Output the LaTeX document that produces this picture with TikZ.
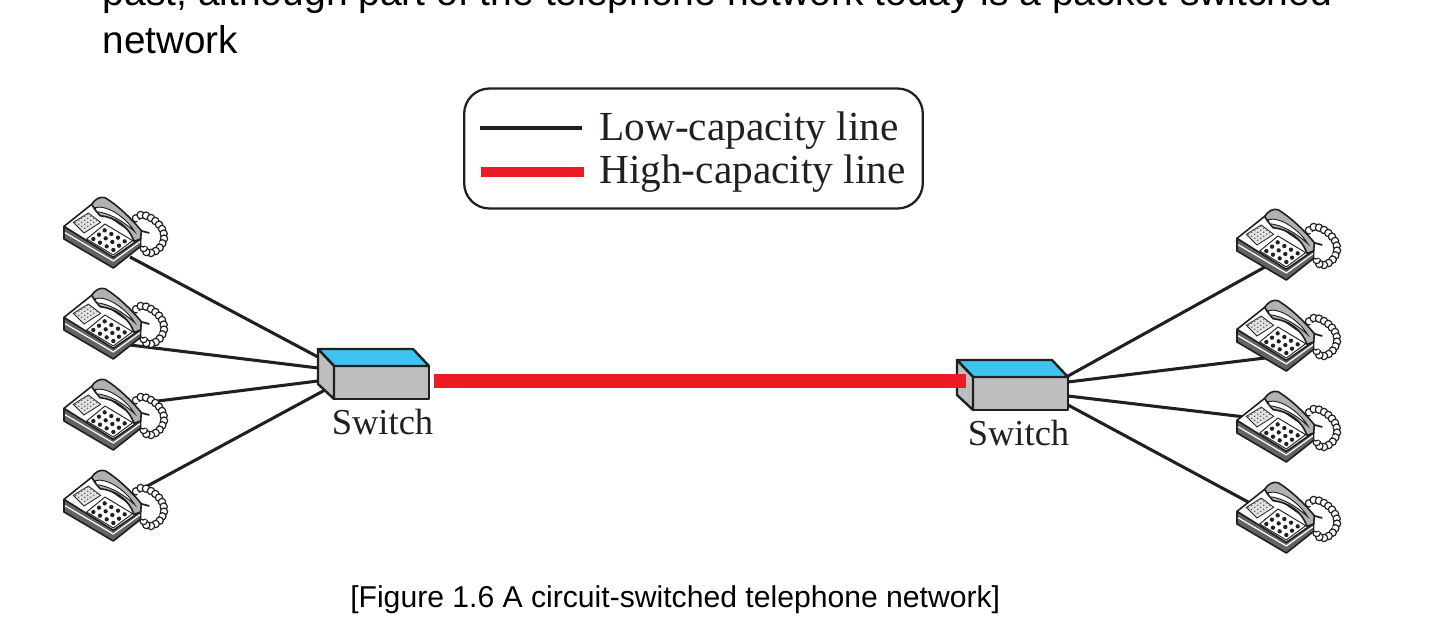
\documentclass[tikz,border=0pt]{standalone}
\usepackage{fontspec}
\setmainfont{Liberation Serif}
\newfontfamily\arialfont{Liberation Sans}
\definecolor{ink}{HTML}{231F20}
\definecolor{redline}{HTML}{ED1C24}
\definecolor{swblue}{HTML}{3FC4F0}
\definecolor{swgray}{HTML}{BCBEC0}
\definecolor{padgray}{HTML}{E4E4E4}
\tikzset{
  lowline/.style={draw=ink,line width=2.3pt},
  highline/.style={draw=redline,line width=10.5pt},
  swedge/.style={draw=ink,line width=1.8pt,line join=round},
  swbox/.style={swedge,fill=swgray,minimum width=71.25pt,minimum height=24.75pt,inner sep=0pt,outer sep=0pt},
  swlabel/.style={font=\fontsize{27.4pt}{30pt}\selectfont,text=ink,anchor=base,inner sep=0pt},
  legendlabel/.style={font=\fontsize{31pt}{33pt}\selectfont,text=ink,anchor=base west,inner sep=0pt},
  sanstext/.style={font=\arialfont\fontsize{29pt}{32pt}\selectfont,text=black,anchor=base west,inner sep=0pt},
  captiontext/.style={font=\arialfont\fontsize{22.6pt}{26pt}\selectfont,text=black,anchor=base west,inner sep=0pt},
  phoneline/.style={draw=ink,line width=1.2pt,line join=round,fill=white},
  phone/.pic={
    \begin{scope}[x=0.25pt,y=-0.25pt]
      % cord
      \foreach \a/\b in {258/88,272/78,288/80,303/87,316/96,327/107,336/120,341/134,342/149,337/163,329/176,317/186,303/192,289/189,281/177,279/163}
        \fill[white,draw=ink,line width=0.9pt] (\a,\b) circle (11);
      \fill[white] (262,92) -- (300,100) -- (328,130) -- (328,160) -- (300,178) -- (270,160) -- cycle;
      \draw[ink,line width=1.3pt] (272,125) -- (298,132);
      % lower body
      \draw[phoneline,fill=ink!70] (42,112) -- (42,150) -- (190,237) -- (272,172) -- (272,148) -- (190,198) -- cycle;
      \draw[draw=white,line width=0.9pt] (45,131) -- (190,216) -- (270,158);
      % top of body
      \draw[phoneline] (42,112) -- (125,46) -- (272,148) -- (190,205) -- cycle;
      % small pad
      \draw[ink,line width=0.6pt,fill=padgray] (70,100) -- (115,72) -- (152,100) -- (102,132) -- cycle;
      \foreach \i in {0,...,4} \foreach \j in {0,...,3}
        \fill[ink!65] ({77+\i*9+\j*9},{100-\i*6+\j*6}) circle (2.8);
      % keypad
      \draw[ink,line width=0.7pt,fill=white] (110,150) -- (165,105) -- (248,155) -- (190,198) -- cycle;
      \foreach \i in {0,...,2} \foreach \j in {0,...,3}
        \fill[ink] ({130+\i*17+\j*20},{150-\i*13+\j*11}) circle (6.5);
      % handset
      \draw[phoneline,fill=ink!35] (125,46) .. controls (135,30) and (150,22) .. (165,26)
        .. controls (205,50) and (245,90) .. (274,125) -- (272,150) -- (252,157)
        .. controls (235,110) and (195,85) .. (150,80) -- (135,62) -- cycle;
      \draw[ink,fill=white,line width=0.7pt] (135,56) .. controls (170,46) and (228,85) .. (254,128)
        .. controls (215,92) and (175,72) .. (140,68) -- cycle;
    \end{scope}
  }
}
\begin{document}
\begin{tikzpicture}[x=0.75pt,y=-0.75pt]
\useasboundingbox (0,0) rectangle (1440,631);
\clip (0,0) rectangle (1440,631);
% top text
\node[sanstext,font=\arialfont\fontsize{29.25pt}{32pt}\selectfont] (t1) at (102.5,6) {past, although part of the telephone network today is a packet-switched};
\node[sanstext] (t2) at (102.5,54) {network};
% legend
\node[draw=ink,line width=1.7pt,rounded corners=19pt,minimum width=344pt,minimum height=90pt,inner sep=0pt] (legend) at (693.5,148.5) {};
\coordinate (la) at (480,128); \coordinate (lb) at (582,128);
\coordinate (ha) at (481,172); \coordinate (hb) at (584,172);
\draw[lowline] (la) -- (lb);
\draw[draw=redline,line width=8pt] (ha) -- (hb);
\node[legendlabel] (lowtext) at (599,141) {Low-capacity line};
\node[legendlabel] (hightext) at (599,184) {High-capacity line};
% switch anchors
\coordinate (sl1) at (318,357); \coordinate (sl2) at (318,368);
\coordinate (sl3) at (318,381); \coordinate (sl4) at (325,390);
\coordinate (sr1) at (1068,376); \coordinate (sr2) at (1068,382);
\coordinate (sr3) at (1068,396); \coordinate (sr4) at (1068,405);
% phone ports
\coordinate (p1) at (130,257); \coordinate (p2) at (130,345);
\coordinate (p3) at (150,402); \coordinate (p4) at (140,490);
\coordinate (q1) at (1265,267); \coordinate (q2) at (1265,358);
\coordinate (q3) at (1245,417); \coordinate (q4) at (1250,503);
\foreach \a/\b in {p1/sl1,p2/sl2,p3/sl3,p4/sl4,q1/sr1,q2/sr2,q3/sr3,q4/sr4}
  \draw[lowline] (\a) -- (\b);
% phones
\foreach \px/\py in {50/189,50/280,50/371,50/462,1223/201,1223/292,1223/383,1223/474}
  \pic at (\px,\py) {phone};
% switches
\node[swbox] (sw1) at (381.5,382.5) {};
\draw[swedge,fill=swblue] (sw1.north west) -- ++(-16,-17) -- ++(95,0) -- (sw1.north east) -- cycle;
\draw[swedge,fill=swgray] (sw1.north west) -- ++(-16,-17) -- ++(0,35) -- (sw1.south west) -- cycle;
\node[swbox] (sw2) at (1020.5,393.5) {};
\draw[swedge,fill=swblue] (sw2.north west) -- ++(-16,-17) -- ++(95,0) -- (sw2.north east) -- cycle;
\draw[swedge,fill=swgray] (sw2.north west) -- ++(-16,-17) -- ++(0,35) -- (sw2.south west) -- cycle;
\coordinate (ra) at (434,380.5); \coordinate (rb) at (966,380.5);
\draw[highline] (ra) -- (rb);
\node[swlabel] (swl1) at (382.5,434) {Switch};
\node[swlabel] (swl2) at (1018.5,445) {Switch};
% caption
\node[captiontext] (cap) at (350,607) {[Figure 1.6 A circuit-switched telephone network]};
\end{tikzpicture}
\end{document}
